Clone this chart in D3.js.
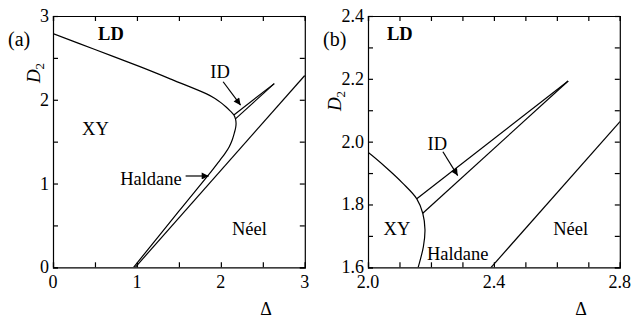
<!DOCTYPE html>
<meta charset="utf-8">
<script src="https://d3js.org/d3.v7.min.js"></script>
<style>
  body { margin: 0; background: #fff; }
  text { font-family: "Liberation Serif", "Times New Roman", serif; fill: #000; }
</style>
<div id="chart"></div>
<script>
// phase boundary: LD/XY on top, folding round the nose into XY/Haldane
const xyDelta = [0, 0.5, 1.036, 1.432, 1.83, 1.93, 2.0, 2.059, 2.11, 2.155, 2.174, 2.181, 2.176, 2.16, 2.135, 2.1, 2.05, 1.99, 1.91, 1.5, 0.96];
const xyD2    = [2.79, 2.6, 2.395, 2.235, 2.07, 2.015, 1.966, 1.916, 1.868, 1.818, 1.772, 1.72, 1.666, 1.602, 1.52, 1.44, 1.36, 1.28, 1.175, 0.67, 0];
// the two ID boundaries meeting at the tip
const idUpperDelta = [2.155, 2.636], idUpperD2 = [1.818, 2.193];
const idLowerDelta = [2.174, 2.636], idLowerD2 = [1.772, 2.193];
// Haldane / Neel line
const neelDelta = [0.98, 3.0], neelD2 = [0, 2.29];

const panels = [
  {name: "(a)", left: 53, xDom: [0, 3], yDom: [0, 3], xTicks: [0, 1, 2, 3], yTicks: [0, 1, 2, 3],
   xMinor: d3.range(0, 3.01, 0.5), yMinor: d3.range(0, 3.01, 0.5), fmt: d3.format("d"),
   d2x: 13, d2y: 73,
   labels: [{t: "LD", x: 0.69, y: 2.713, bold: true}, {t: "XY", x: 0.506, y: 1.58},
            {t: "Néel", x: 2.34, y: 0.383}, {t: "ID", x: 1.99, y: 2.26},
            {t: "Haldane", x: 1.167, y: 0.98}],
   arrows: [{x1: 2.027, y1: 2.215, x2: 2.235, y2: 1.936}, {x1: 1.58, y1: 1.09, x2: 1.855, y2: 1.09}]},
  {name: "(b)", left: 368, xDom: [2.0, 2.8], yDom: [1.6, 2.4], xTicks: [2.0, 2.4, 2.8], yTicks: [1.6, 1.8, 2.0, 2.2, 2.4],
   xMinor: d3.range(2.0, 2.801, 0.1), yMinor: d3.range(1.6, 2.401, 0.1), fmt: d3.format(".1f"),
   d2x: 27, d2y: 101,
   labels: [{t: "LD", x: 2.101, y: 2.324, bold: true}, {t: "XY", x: 2.092, y: 1.703},
            {t: "Néel", x: 2.644, y: 1.703}, {t: "ID", x: 2.22, y: 1.974},
            {t: "Haldane", x: 2.285, y: 1.623}],
   arrows: [{x1: 2.238, y1: 1.968, x2: 2.285, y2: 1.892}]}
];

const W = 636, H = 320, plotTop = 16, ph = 251.3, pw = 251.8;

const svg = d3.select("#chart").append("svg").attr("width", W).attr("height", H);

svg.append("defs").append("marker")
    .attr("id", "head").attr("viewBox", "0 0 10 10").attr("refX", 10).attr("refY", 5)
    .attr("markerWidth", 9).attr("markerHeight", 7).attr("markerUnits", "userSpaceOnUse")
    .attr("orient", "auto")
  .append("path").attr("d", "M0,0L10,5L0,10Z").attr("fill", "#000");

panels.forEach(function(p, i) {
  const x = d3.scaleLinear().domain(p.xDom).range([p.left, p.left + pw]);
  const y = d3.scaleLinear().domain(p.yDom).range([plotTop + ph, plotTop]);

  const g = svg.append("g");
  g.append("clipPath").attr("id", "clip" + i).append("rect")
      .attr("x", p.left).attr("y", plotTop).attr("width", pw).attr("height", ph);

  const curves = g.append("g").attr("clip-path", "url(#clip" + i + ")")
      .attr("fill", "none").attr("stroke", "#000").attr("stroke-width", 1.2);

  const smooth = d3.line().x(d => x(d[0])).y(d => y(d[1])).curve(d3.curveCatmullRom.alpha(0.5));
  const straight = d3.line().x(d => x(d[0])).y(d => y(d[1]));

  curves.append("path").attr("d", smooth(d3.zip(xyDelta, xyD2)));
  curves.append("path").attr("d", straight(d3.zip(idUpperDelta, idUpperD2)));
  curves.append("path").attr("d", straight(d3.zip(idLowerDelta, idLowerD2)));
  curves.append("path").attr("d", straight(d3.zip(neelDelta, neelD2)));

  // frame with inward ticks on all four sides
  const tl = 5;
  g.append("g").attr("transform", `translate(0,${plotTop + ph})`)
    .call(d3.axisBottom(x).tickValues(p.xMinor).tickSize(-tl).tickFormat(""));
  g.append("g").attr("transform", `translate(0,${plotTop})`)
    .call(d3.axisTop(x).tickValues(p.xMinor).tickSize(-tl).tickFormat(""));
  g.append("g").attr("transform", `translate(${p.left},0)`)
    .call(d3.axisLeft(y).tickValues(p.yMinor).tickSize(-tl).tickFormat(""));
  g.append("g").attr("transform", `translate(${p.left + pw},0)`)
    .call(d3.axisRight(y).tickValues(p.yMinor).tickSize(-tl).tickFormat(""));
  g.selectAll(".domain, .tick line").attr("stroke", "#000").attr("stroke-width", 1.2);

  g.selectAll(".xlab").data(p.xTicks).join("text")
      .attr("x", d => x(d)).attr("y", plotTop + ph + 21)
      .attr("text-anchor", "middle").attr("font-size", 18).text(p.fmt);
  g.selectAll(".ylab").data(p.yTicks).join("text")
      .attr("x", p.left - 4).attr("y", d => y(d) + 6)
      .attr("text-anchor", "end").attr("font-size", 18).text(p.fmt);

  g.append("text").attr("x", p.left - 45).attr("y", 46).attr("font-size", 20).text(p.name);

  const d2 = g.append("text").attr("font-size", 19)
      .attr("transform", `translate(${p.left - p.d2x},${p.d2y}) rotate(-90)`)
      .attr("text-anchor", "middle");
  d2.append("tspan").attr("font-style", "italic").text("D");
  d2.append("tspan").attr("font-size", 13).attr("dy", 4).text("2");

  g.append("text").attr("x", p.left + 213).attr("y", 315)
      .attr("text-anchor", "middle").attr("font-size", 18).text("Δ");

  g.selectAll(".lab").data(p.labels).join("text")
      .attr("x", d => x(d.x)).attr("y", d => y(d.y))
      .attr("text-anchor", "middle").attr("font-size", 18.5)
      .attr("font-weight", d => d.bold ? "bold" : null)
      .text(d => d.t);

  g.selectAll(".arr").data(p.arrows).join("line")
      .attr("x1", d => x(d.x1)).attr("y1", d => y(d.y1))
      .attr("x2", d => x(d.x2)).attr("y2", d => y(d.y2))
      .attr("stroke", "#000").attr("stroke-width", 1.2).attr("marker-end", "url(#head)");
});
</script>
